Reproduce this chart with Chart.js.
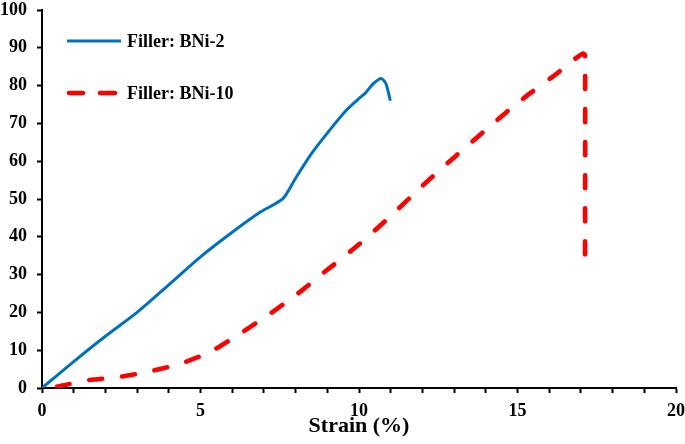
<!DOCTYPE html>
<html>
<head>
<meta charset="utf-8">
<script src="https://cdn.jsdelivr.net/npm/chart.js@4.4.1/dist/chart.umd.min.js"></script>
<style>
  html, body { margin: 0; padding: 0; background: #fff; }
  #wrap { width: 685px; height: 444px; position: relative; }
</style>
</head>
<body>
<div id="wrap"><canvas id="c" width="685" height="444"></canvas></div>
<script>
// ---- Data ----
const xTickLabels = ['0', '5', '10', '15', '20'];
const yTickLabels = ['0','10','20','30','40','50','60','70','80','90','100'];
const seriesNames = ['Filler: BNi-2', 'Filler: BNi-10'];

const bni2Strain = [0, 1, 2, 3, 4, 5, 6, 6.9, 7.6, 8.0, 8.5, 9.1, 9.6, 10.0, 10.2, 10.45, 10.7, 10.85, 10.98];
const bni2Stress = [0, 7, 13.7, 20, 27.3, 34.7, 41.2, 46.6, 50.1, 55.5, 62, 68.5, 73.5, 76.6, 78, 80.5, 81.9, 80.5, 76.3];

const bni10Strain = [0, 0.5, 1.4, 2.4, 3.3, 4.35, 5.3, 6.25, 7.2, 8.0, 8.9, 10, 11, 12, 13, 14, 14.7, 15.4, 16.1, 16.9, 17.08, 17.13, 17.13];
const bni10Stress = [0, 0.4, 2, 2.9, 4.2, 6.4, 9.5, 14.4, 19.7, 24.5, 30.6, 38, 45.5, 53.5, 61, 68.3, 73.3, 78, 82.3, 87.6, 88.5, 88, 35];

const toPts = (xs, ys) => xs.map((x, i) => ({ x: x, y: ys[i] }));

const FONT = "'Liberation Serif', 'Times New Roman', serif";

const legendPlugin = {
  id: 'insideLegend',
  afterDatasetsDraw(chart) {
    const ctx = chart.ctx;
    const ds = chart.data.datasets;
    ctx.save();
    ctx.font = 'bold 18px ' + FONT;
    ctx.fillStyle = '#000';
    ctx.textBaseline = 'middle';
    ctx.textAlign = 'left';
    // entry 1: solid blue
    ctx.strokeStyle = ds[0].borderColor;
    ctx.lineWidth = ds[0].borderWidth;
    ctx.lineCap = 'butt';
    ctx.beginPath();
    ctx.moveTo(67, 41); ctx.lineTo(121, 41);
    ctx.stroke();
    ctx.fillText(ds[0].label, 127, 42);
    // entry 2: dashed red
    ctx.strokeStyle = ds[1].borderColor;
    ctx.lineWidth = ds[1].borderWidth;
    ctx.lineCap = 'round';
    ctx.beginPath();
    ctx.moveTo(69, 93); ctx.lineTo(83, 93);
    ctx.moveTo(100, 93); ctx.lineTo(115, 93);
    ctx.stroke();
    ctx.fillText(ds[1].label, 127, 94);
    ctx.restore();
  }
};

new Chart(document.getElementById('c'), {
  type: 'line',
  data: {
    datasets: [
      {
        label: seriesNames[0],
        data: toPts(bni2Strain, bni2Stress),
        borderColor: '#0070C0',
        borderWidth: 3,
        borderCapStyle: 'round',
        borderJoinStyle: 'round',
        pointRadius: 0,
        tension: 0.25,
        fill: false
      },
      {
        label: seriesNames[1],
        data: toPts(bni10Strain, bni10Stress),
        borderColor: '#FF0000',
        borderWidth: 4.6,
        borderDash: [13, 20],
        borderDashOffset: 18,
        borderCapStyle: 'round',
        borderJoinStyle: 'round',
        pointRadius: 0,
        tension: 0.2,
        fill: false
      }
    ]
  },
  options: {
    responsive: false,
    animation: false,
    events: [],
    layout: { padding: 0 },
    plugins: {
      legend: { display: false },
      tooltip: { enabled: false }
    },
    scales: {
      x: {
        type: 'linear',
        min: 0, max: 20,
        afterFit(s) { s.height = 56; s.paddingRight = 9; s.paddingLeft = 0; },
        ticks: {
          stepSize: 1,
          autoSkip: false,
          maxRotation: 0,
          padding: 8,
          color: '#000',
          font: { family: FONT, size: 18, weight: 'bold' },
          callback: (v) => (v % 5 === 0 ? xTickLabels[v / 5] : '')
        },
        grid: { display: true, drawOnChartArea: false, drawTicks: true, tickLength: 5, tickWidth: 2, color: '#000' },
        border: { display: true, color: '#000', width: 2 },
        title: {
          display: true,
          text: 'Strain (%)',
          color: '#000',
          font: { family: FONT, size: 22, weight: 'bold' },
          padding: { top: 0, bottom: 4 }
        }
      },
      y: {
        type: 'linear',
        min: 0, max: 100,
        afterFit(s) { s.width = 42; s.paddingTop = 10; s.paddingBottom = 0; },
        ticks: {
          stepSize: 10,
          padding: 10,
          color: '#000',
          font: { family: FONT, size: 18, weight: 'bold' },
          callback: (v) => yTickLabels[Math.round(v / 10)]
        },
        grid: { display: true, drawOnChartArea: false, drawTicks: true, tickLength: 5, tickWidth: 2, color: '#000' },
        border: { display: true, color: '#000', width: 2 }
      }
    }
  },
  plugins: [legendPlugin]
});
</script>
</body>
</html>
